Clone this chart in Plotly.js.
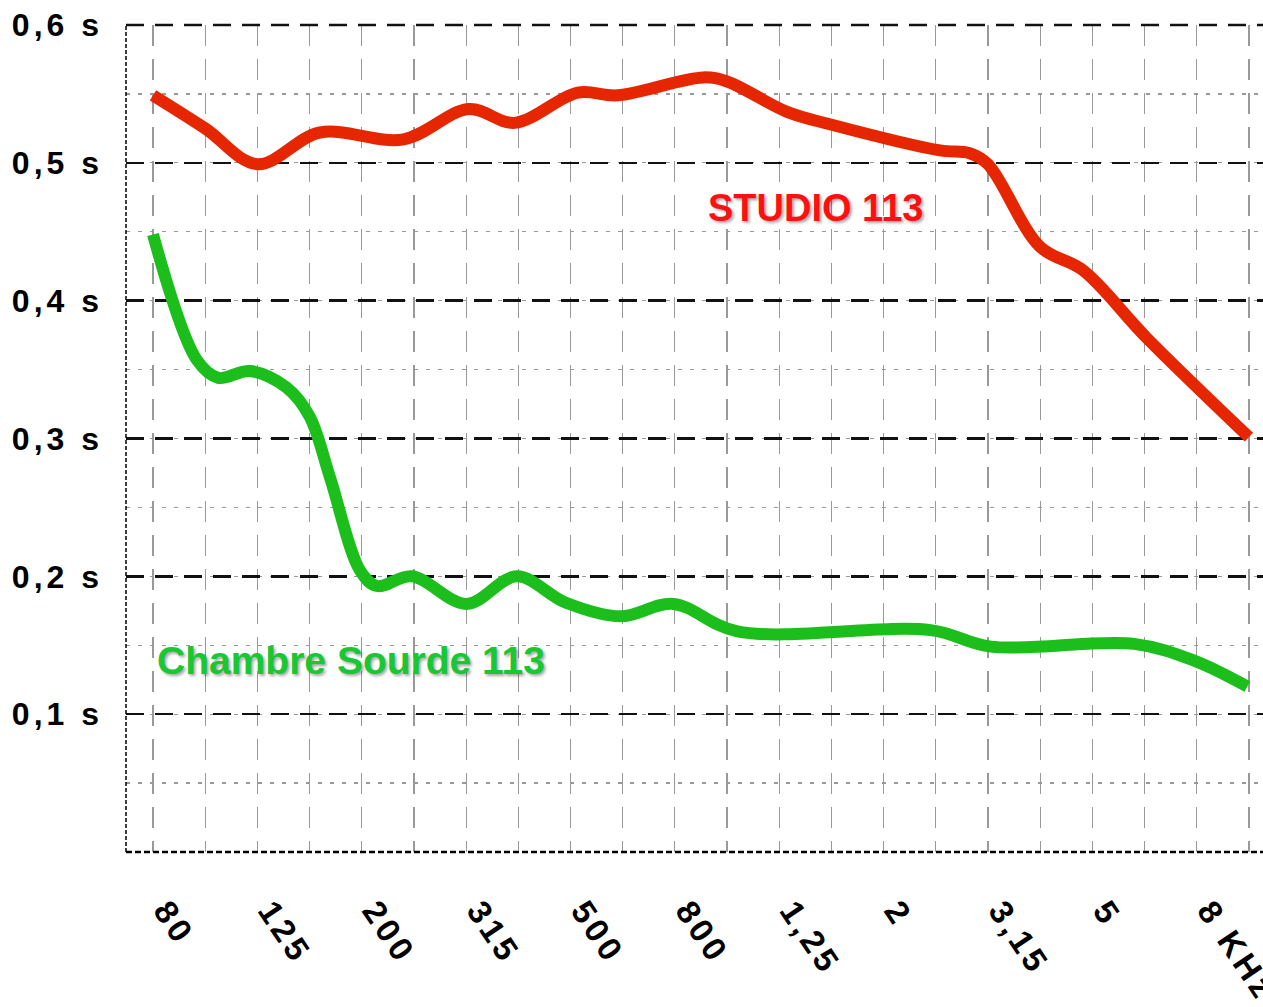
<!DOCTYPE html>
<html>
<head>
<meta charset="utf-8">
<script src="https://cdn.plot.ly/plotly-3.0.1.min.js"></script>
<style>
  html, body { margin: 0; padding: 0; background: #fff; }
  #chart { width: 1263px; height: 1007px; }
  .xtick text { letter-spacing: 4px; }
  .ytick text { letter-spacing: 4px; }
  .annotation-text { text-shadow: 2px 2px 3px rgba(0,0,0,0.35); }
</style>
</head>
<body>
<div id="chart"></div>
<script>
// Third-octave band index (0 = 80 Hz ... 21 = 10 kHz)
const bandTickIndex = [0, 2, 4, 6, 8, 10, 12, 14, 16, 18, 20];
const bandTickText = ['80', '125', '200', '315', '500', '800', '1,25', '2', '3,15', '5', '8 KHz'];

const yTickVals = [0.1, 0.2, 0.3, 0.4, 0.5, 0.6];
const yTickText = ['0,1 s', '0,2 s', '0,3 s', '0,4 s', '0,5 s', '0,6 s'];

// STUDIO 113 (reverberation time, s)
const studioX = [0, 1, 2, 3.2, 4.8, 6.05, 6.93, 8.14, 8.9, 10.54, 11, 12.15, 12.97, 15.08, 15.65, 16, 17, 17.82, 19.04, 21];
const studioY = [0.549, 0.525, 0.499, 0.522, 0.517, 0.539, 0.529, 0.551, 0.549, 0.562, 0.559, 0.537, 0.528, 0.509, 0.507, 0.499, 0.439, 0.422, 0.373, 0.301];

// Chambre Sourde 113
const chambreX = [0, 0.84, 1.25, 1.86, 2.56, 3.0, 3.39, 3.97, 4.29, 4.96, 6.01, 6.97, 7.9, 8.96, 9.97, 11.2, 14.9, 16.06, 18.8, 19.94, 20.97];
const chambreY = [0.448, 0.357, 0.344, 0.349, 0.337, 0.316, 0.272, 0.204, 0.193, 0.200, 0.180, 0.200, 0.181, 0.171, 0.180, 0.160, 0.161, 0.149, 0.151, 0.139, 0.120];

const traces = [
  { x: studioX, y: studioY, type: 'scatter', mode: 'lines',
    line: { color: '#e52600', width: 12, shape: 'spline', smoothing: 1 }, name: 'STUDIO 113' },
  { x: chambreX, y: chambreY, type: 'scatter', mode: 'lines',
    line: { color: '#1cbe1c', width: 12, shape: 'spline', smoothing: 1 }, name: 'Chambre Sourde 113' }
];

const xTickFont = { family: 'Liberation Sans, Arial, sans-serif', size: 33, color: '#000', weight: 700 };
const yTickFont = { family: 'Liberation Sans, Arial, sans-serif', size: 32, color: '#000', weight: 700 };

const layout = {
  width: 1263, height: 1007,
  margin: { l: 126, r: 0, t: 25, b: 155 },
  paper_bgcolor: '#fff', plot_bgcolor: '#fff',
  showlegend: false,
  xaxis: {
    range: [-0.517, 21.27],
    tickmode: 'array', tickvals: bandTickIndex, ticktext: bandTickText,
    tickangle: 56, tickfont: xTickFont,
    ticks: '', ticklabelstandoff: 32, ticklabelshift: 13, ticklabeloverflow: 'allow',
    showgrid: true, gridcolor: '#999', gridwidth: 1.2, griddash: '21px,13px',
    minor: { dtick: 1, tick0: 0, showgrid: true, gridcolor: '#999', gridwidth: 1.2, griddash: '21px,13px' },
    zeroline: false, showline: false
  },
  yaxis: {
    range: [0, 0.6],
    tickmode: 'array', tickvals: yTickVals, ticktext: yTickText,
    tickfont: yTickFont,
    ticks: '', ticklabelstandoff: 22, ticklabeloverflow: 'allow',
    showgrid: true, gridcolor: '#111', gridwidth: 2.5, griddash: '18px,11px',
    minor: { dtick: 0.05, tick0: 0, showgrid: true, gridcolor: '#999', gridwidth: 1.3, griddash: '4px,8px' },
    zeroline: false, showline: false
  },
  shapes: [
    { type: 'line', xref: 'paper', yref: 'paper', x0: 0, x1: 1, y0: 0, y1: 0,
      line: { color: '#000', width: 2.5, dash: '6px,3px' } },
    { type: 'line', xref: 'paper', yref: 'paper', x0: 0, x1: 0, y0: 0, y1: 1,
      line: { color: '#000', width: 1.5, dash: '4px,2px' } },
    { type: 'line', xref: 'paper', yref: 'paper', x0: 0, x1: 1, y0: 1, y1: 1,
      line: { color: '#111', width: 2.5, dash: '18px,11px' } }
  ],
  annotations: [
    { x: 12.7, y: 0.467, xref: 'x', yref: 'y', text: 'STUDIO 113', showarrow: false,
      font: { family: 'Liberation Sans, Arial, sans-serif', size: 38, color: '#ff1010', weight: 700 } },
    { x: 3.8, y: 0.139, xref: 'x', yref: 'y', text: 'Chambre Sourde 113', showarrow: false,
      font: { family: 'Liberation Sans, Arial, sans-serif', size: 39, color: '#18c832', weight: 700 } }
  ]
};

Plotly.newPlot('chart', traces, layout, { displayModeBar: false, staticPlot: true });
</script>
</body>
</html>
